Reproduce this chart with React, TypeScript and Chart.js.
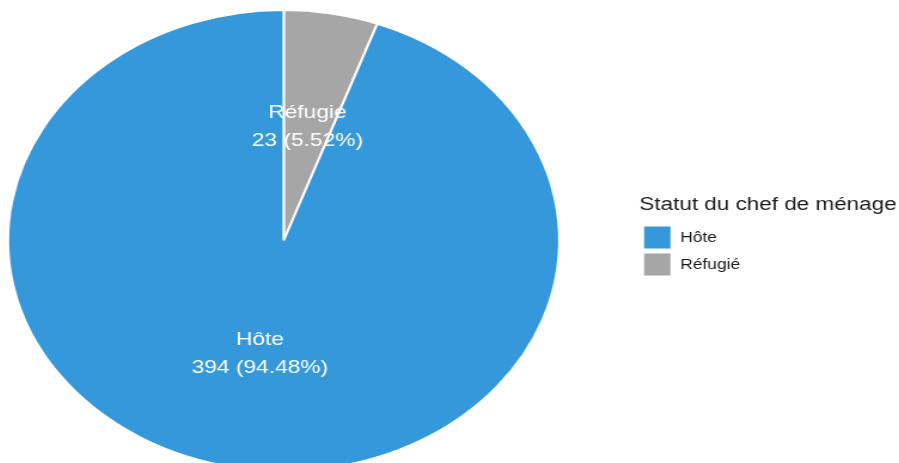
import React, { useEffect, useRef } from 'react';
import { Chart, registerables } from 'chart.js';

Chart.register(...registerables);

// ---- data ----
const categories = ['Réfugié', 'Hôte'];
const sliceLabels = ['Réfugie', 'Hôte'];
const counts = [23, 394];
const colors = ['#A6A6A6', '#3498DB'];
const legendTitle = 'Statut du chef de ménage';

const FONT = '"Liberation Sans", Arial, Helvetica, sans-serif';
const SX = 1.196;
const OFFSET = 72;
const W = 820;
const H = 480;
const TITLE_SIZE = 18.8;
const TITLE_PAD_TOP = 186;

const sliceLabelPlugin = {
  id: 'sliceLabels',
  afterDatasetsDraw(chart: any) {
    const ctx = chart.ctx;
    const meta = chart.getDatasetMeta(0);
    const total = counts.reduce((a, b) => a + b, 0);
    ctx.save();
    ctx.fillStyle = '#ffffff';
    ctx.font = `19px ${FONT}`;
    ctx.textAlign = 'center';
    ctx.textBaseline = 'middle';
    meta.data.forEach((arc: any, i: number) => {
      const p = arc.tooltipPosition(false);
      const pct = ((counts[i] / total) * 100).toFixed(2);
      ctx.fillText(sliceLabels[i], p.x, p.y - 14);
      ctx.fillText(`${counts[i]} (${pct}%)`, p.x, p.y + 14);
    });
    ctx.restore();
  },
};

// draws the legend title without the legend box clipping it
const legendTitlePlugin = {
  id: 'legendTitleUnclipped',
  afterDraw(chart: any) {
    const lg = chart.legend;
    if (!lg) return;
    const ctx = chart.ctx;
    ctx.save();
    ctx.fillStyle = '#1a1a1a';
    ctx.font = `${TITLE_SIZE}px ${FONT}`;
    ctx.textAlign = 'left';
    ctx.textBaseline = 'middle';
    ctx.fillText(legendTitle, lg.left, lg.top + TITLE_PAD_TOP + TITLE_SIZE / 2);
    ctx.restore();
  },
};

export default function App() {
  const ref = useRef<HTMLCanvasElement | null>(null);
  useEffect(() => {
    if (!ref.current) return;
    const chart = new Chart(ref.current, {
      type: 'pie',
      data: {
        labels: categories,
        datasets: [
          {
            data: counts,
            backgroundColor: colors,
            borderColor: '#ffffff',
            borderWidth: 2,
          },
        ],
      },
      options: {
        responsive: false,
        animation: false,
        devicePixelRatio: 1,
        layout: { padding: { left: 0, right: 131, top: 9, bottom: 8 } },
        plugins: {
          tooltip: { enabled: false },
          legend: {
            position: 'right',
            align: 'start',
            labels: {
              boxWidth: 24,
              boxHeight: 24,
              padding: 3,
              color: '#1a1a1a',
              font: { size: 14.5, family: FONT },
              sort: (a: any, b: any) => b.index - a.index,
            },
            title: {
              display: true,
              text: legendTitle,
              position: 'start',
              color: 'rgba(0,0,0,0)',
              font: { size: TITLE_SIZE, family: FONT },
              padding: { top: TITLE_PAD_TOP, bottom: 5 },
            },
          },
        },
      } as any,
      plugins: [sliceLabelPlugin, legendTitlePlugin],
    });
    return () => chart.destroy();
  }, []);

  return (
    <div
      style={{
        position: 'fixed',
        left: 0,
        top: 0,
        width: 899,
        height: 463,
        overflow: 'hidden',
        background: '#ffffff',
      }}
    >
      <div
        style={{
          position: 'absolute',
          left: -OFFSET,
          top: 0,
          width: W,
          height: H,
          transform: `scaleX(${SX})`,
          transformOrigin: '0 0',
        }}
      >
        <canvas ref={ref} width={W} height={H} style={{ display: 'block', width: W, height: H }} />
      </div>
    </div>
  );
}
